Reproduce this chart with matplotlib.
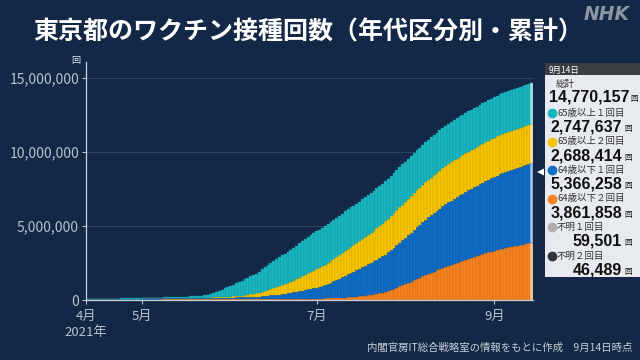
import numpy as np
import pandas as pd
import matplotlib
matplotlib.use("Agg")
import matplotlib.pyplot as plt
from matplotlib.patches import Rectangle, Polygon
from matplotlib.lines import Line2D

plt.rcParams['font.family'] = ['Noto Sans CJK JP', 'DejaVu Sans']

# 2021-04-12 .. 2021-09-14 の日別累計 (単位: 万回)
dates = pd.date_range("2021-04-12", "2021-09-14")

# 65歳以上 1回目
over65_1 = [0.1, 0.2, 0.3, 0.4, 0.5, 0.6, 0.7, 0.8, 0.9, 1.0, 1.2, 1.4, 1.6, 1.8, 2.0, 2.2, 2.4, 2.7, 3.0,
            3.2, 3.4, 3.6, 3.9, 4.2, 4.5, 4.8, 5.1, 5.5, 5.9, 6.3,
            6.8, 7.3, 7.8, 8.4, 9.0, 9.7, 10.4, 11.2, 12.0, 13.0, 14.0,
            17, 21, 26, 31, 37, 43, 50, 58, 66,
            73, 80, 87, 94, 101, 108, 115, 122, 129, 135,
            143, 151, 159, 167, 175, 182, 189, 196, 202, 208, 214,
            219, 224, 229, 234, 238, 242, 246, 249, 252, 255, 258, 261,
            262, 263, 264, 265, 265, 266, 266, 267, 267, 268, 268, 268,
            268, 269, 269, 269, 269, 269, 270, 270, 270, 270,
            270, 270, 270, 271, 271, 271, 271, 271, 271, 271,
            271, 271, 272, 272, 272, 272, 272, 272, 272, 272,
            272, 272, 272, 273, 273, 273, 273, 273, 273, 273,
            273, 273, 273, 273, 273, 274, 274, 274, 274, 274,
            274, 274, 274, 274, 274, 274, 274.5, 274.5, 274.6, 274.7, 274.76]
# 65歳以上 2回目
over65_2 = [0] * 21 + [
            0.02, 0.04, 0.06, 0.08, 0.1, 0.12, 0.15, 0.18, 0.2, 0.25, 0.3, 0.35, 0.4, 0.45, 0.5, 0.6, 0.7, 0.8, 0.9, 1.0,
            1.3, 1.7, 2.1, 2.6, 3.1, 3.6, 4.1, 4.6, 5.0,
            6, 7.5, 9, 10.5, 12, 14, 16, 18, 20.5, 23,
            27, 31, 35, 39, 43, 47, 51, 56, 60, 64, 68,
            73, 78, 84, 90, 96, 102, 108, 114, 119, 124, 129, 134,
            139, 144, 148, 152, 156, 160, 164, 168, 172, 175, 178, 181,
            186, 190, 194, 199, 204, 208, 213, 217, 221, 225,
            228, 231, 233, 236, 238, 240, 242, 244, 246, 247, 249, 250,
            251, 252, 253, 254, 255, 256, 256, 257, 258, 258, 259, 259, 260, 260,
            260, 261, 261, 262, 262, 263, 263, 264, 264, 264, 265, 265, 265, 266,
            266, 266, 267, 267, 267, 267, 268, 268, 268, 268.6, 268.84]
# 64歳以下 1回目
under64_1 = [5.0, 5.1, 5.2, 5.3, 5.4, 5.5, 5.6, 5.7, 5.8, 5.9, 6.0, 6.1, 6.2, 6.3, 6.4, 6.5, 6.6, 6.8, 7.0,
             7.1, 7.2, 7.3, 7.4, 7.5, 7.6, 7.7, 7.8, 7.9, 8.0, 8.1, 8.2, 8.3, 8.4, 8.5, 8.6, 8.7, 8.8, 8.9, 9.0, 9.1, 9.2,
             9.4, 9.6, 9.8, 10.0, 10.2, 10.4, 10.6, 10.8, 11.0, 11.3, 11.6, 11.9, 12.2, 12.5, 12.9, 13.3, 13.8, 14.4, 15.0,
             16, 18, 20, 22, 24, 26, 28, 30, 32, 35, 38,
             41, 44, 47, 51, 55, 59, 63, 67, 71, 75, 79, 83,
             90, 97, 105, 113, 121, 130, 139, 147, 156, 164, 172, 180,
             187, 194, 201, 208, 216, 223, 230, 237, 244, 251,
             260, 269, 278, 287, 296, 305, 314, 323, 332, 341, 350, 358,
             366, 374, 382, 389, 396, 403, 410, 417, 423, 429, 435, 440, 445, 450,
             454, 458, 462, 466, 470, 474, 478, 482, 486, 490, 494, 498, 502, 506,
             509, 512, 515, 518, 521, 524, 527, 530, 532, 534, 536.63]
# 64歳以下 2回目
under64_2 = [2.0, 2.0, 2.1, 2.1, 2.2, 2.2, 2.3, 2.3, 2.4, 2.4, 2.5, 2.5, 2.6, 2.6, 2.7, 2.7, 2.8, 2.9, 3.0,
             3.0, 3.1, 3.1, 3.2, 3.2, 3.3, 3.3, 3.4, 3.4, 3.5, 3.5, 3.6, 3.6, 3.7, 3.7, 3.8, 3.8, 3.9, 3.9, 4.0, 4.0, 4.1,
             4.2, 4.3, 4.4, 4.5, 4.6, 4.7, 4.8, 4.9, 5.0, 5.1, 5.2, 5.3, 5.4, 5.5, 5.6, 5.7, 5.8, 5.9, 6.0,
             6.1, 6.2, 6.3, 6.4, 6.5, 6.6, 6.7, 6.8, 6.9, 7.0, 7.2,
             7.4, 7.6, 7.8, 8.0, 8.2, 8.4, 8.6, 8.8, 9.0, 9.3, 9.6, 10,
             10.5, 11, 11.6, 12.3, 13, 14, 15, 16, 17.3, 18.7, 20.2, 22,
             24, 26.5, 29, 32, 35, 38.5, 42, 46, 50, 55,
             61, 68, 76, 84, 92, 100, 108, 116, 124, 132, 141, 150,
             159, 168, 176, 184, 192, 200, 208, 216, 223, 230, 237, 244, 251, 258,
             265, 272, 279, 285, 291, 297, 303, 309, 315, 321, 327, 333, 338, 343,
             347, 351, 355, 359, 363, 367, 370, 374, 378, 382, 386.19]

# 右パネル
panel_date = "9月14日"
panel_total = "14,770,157"
panel_labels = ["65歳以上１回目", "65歳以上２回目", "64歳以下１回目", "64歳以下２回目", "不明１回目", "不明２回目"]
panel_values = ["2,747,637", "2,688,414", "5,366,258", "3,861,858", "59,501", "46,489"]
panel_colors = ["#19b6c1", "#f6c400", "#0f6dc6", "#f5821e", "#b5aeae", "#333333"]

month_ticks = ["2021-04-12", "2021-05-01", "2021-07-01", "2021-09-01"]
month_labels = ["4月\n2021年", "5月", "7月", "9月"]

bg = "#132846"
fg = "#e4e8ee"

W, H = 640, 360
fig = plt.figure(figsize=(6.4, 3.6), dpi=100, facecolor=bg)
ax = fig.add_axes([86 / W, 1 - 300 / H, (533 - 86) / W, (300 - 62) / H], facecolor=bg)

x = np.arange(len(dates))
layers = [under64_2, under64_1, over65_2, over65_1]
cols = ["#f5821e", "#0f6dc6", "#f6c400", "#19b6c1"]
edges = ["#c9661a", "#0b559c", "#c9a000", "#138f98"]
light = ["#f7c79a", "#9cc3ea", "#f7e49a", "#a6e2e6"]
bottom = np.zeros(len(x))
for vals, c, ec, lc in zip(layers, cols, edges, light):
    v = np.array(vals) * 1e4
    colors = [c] * (len(x) - 1) + [lc]
    ax.bar(x, v, bottom=bottom, width=1.0, color=colors, edgecolor=ec, linewidth=0.25)
    bottom += v

ax.set_xlim(-0.5, len(x) - 0.5)
ax.set_ylim(0, 16.08e6)
ax.set_yticks([0, 5e6, 10e6, 15e6])
ax.set_yticklabels(["0", "5,000,000", "10,000,000", "15,000,000"], fontsize=10, color=fg)
ax.grid(axis="y", color="#2e4668", linewidth=0.7)
ax.set_axisbelow(True)
pos = [(pd.Timestamp(d) - dates[0]).days for d in month_ticks]
pos[0] = -0.5
ax.set_xticks(pos)
ax.set_xticklabels(month_labels, fontsize=9.5, color=fg, linespacing=1.35)
ax.tick_params(colors="#b8c0cc", length=3, width=0.8, pad=2)
ax.tick_params(axis="x", pad=4)
for s in ["top", "right"]:
    ax.spines[s].set_visible(False)
for s in ["left", "bottom"]:
    ax.spines[s].set_color("#c8ced6")
    ax.spines[s].set_linewidth(0.9)

def fx(px):
    return px / W

def fy(py):
    return 1 - py / H

# タイトル
fig.text(fx(33), fy(32), "東京都のワクチン接種回数（年代区分別・累計）", fontsize=18,
         fontweight="bold", color="white", va="center", ha="left")
fig.text(fx(630), fy(15), "NHK", fontsize=13.5, fontweight="bold", style="italic",
         color="#8c96a3", va="center", ha="right", family="DejaVu Sans")
fig.text(fx(76), fy(60), "回", fontsize=6.5, color=fg, va="center", ha="center")
fig.text(fx(632), fy(348), "内閣官房IT総合戦略室の情報をもとに作成　9月14日時点",
         fontsize=7.5, color="#c8ced6", va="center", ha="right")

# 右パネル
fig.add_artist(Rectangle((fx(545), fy(75)), fx(95), 12 / H, transform=fig.transFigure,
                         facecolor="#3a3d42", edgecolor="none"))
fig.add_artist(Rectangle((fx(545), fy(277)), fx(95), 202 / H, transform=fig.transFigure,
                         facecolor="#e7eaee", edgecolor="none"))
fig.text(fx(549), fy(70), panel_date, fontsize=6, color="white", va="center", ha="left")
fig.text(fx(556), fy(85), "総計", fontsize=6.8, color="#333333", va="center", ha="left")
fig.text(fx(629), fy(97.5), panel_total, fontsize=11.5, fontweight="bold", color="#111111",
         va="center", ha="right", family="Liberation Sans")
fig.text(fx(630), fy(99.5), "回", fontsize=5.5, color="#111111", va="center", ha="left")
# 三角マーカー
fig.add_artist(Polygon([(fx(537), fy(172)), (fx(544), fy(168.5)), (fx(544), fy(175.5))],
                       closed=True, transform=fig.transFigure, facecolor="white", edgecolor="none"))

y0 = 113
for i, (lab, val, c) in enumerate(zip(panel_labels, panel_values, panel_colors)):
    yl = y0 + i * 28.6
    yv = yl + 14
    fig.add_artist(Line2D([fx(552)], [fy(yl)], marker="o", markersize=6, color=c,
                          linestyle="none", transform=fig.transFigure))
    fig.text(fx(557), fy(yl), lab, fontsize=6.8, color="#333333", va="center", ha="left")
    fig.text(fx(622), fy(yv), val, fontsize=11.5, fontweight="bold", color="#111111",
             va="center", ha="right", family="Liberation Sans")
    fig.text(fx(624), fy(yv + 2), "回", fontsize=5.5, color="#111111", va="center", ha="left")

fig.savefig("out.png", dpi=100, facecolor=bg)
